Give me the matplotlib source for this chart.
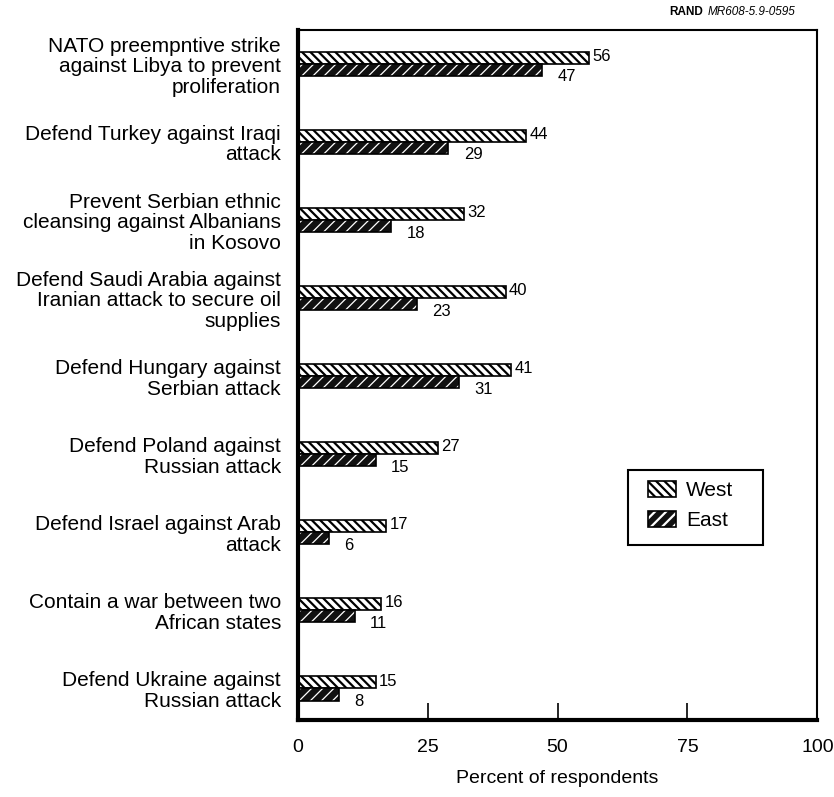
import matplotlib
matplotlib.use("Agg")
import matplotlib.pyplot as plt
from matplotlib.patches import Patch, Rectangle
from matplotlib.legend_handler import HandlerTuple

plt.rcParams['font.family'] = ['Liberation Sans', 'DejaVu Sans']
plt.rcParams['hatch.linewidth'] = 1.6

categories = [
    "NATO preempntive strike\nagainst Libya to prevent\nproliferation",
    "Defend Turkey against Iraqi\nattack",
    "Prevent Serbian ethnic\ncleansing against Albanians\nin Kosovo",
    "Defend Saudi Arabia against\nIranian attack to secure oil\nsupplies",
    "Defend Hungary against\nSerbian attack",
    "Defend Poland against\nRussian attack",
    "Defend Israel against Arab\nattack",
    "Contain a war between two\nAfrican states",
    "Defend Ukraine against\nRussian attack",
]
west = [56, 44, 32, 40, 41, 27, 17, 16, 15]
east = [47, 29, 18, 23, 31, 15, 6, 11, 8]
xticks = [0, 25, 50, 75, 100]

fig = plt.figure(figsize=(8.34, 7.97), dpi=100)
ax = fig.add_axes([0.357, 0.097, 0.623, 0.865])

y = list(range(len(categories)))
h = 0.155
yw = [v - h / 2 for v in y]
ye = [v + h / 2 for v in y]

ax.barh(yw, west, height=h, facecolor='white', edgecolor='black', hatch='\\\\\\\\', linewidth=1.2)
with plt.rc_context({'hatch.linewidth': 0.9}):
    ax.barh(ye, east, height=h, facecolor='#111111', edgecolor='white', hatch='///', linewidth=0)
    he1 = Patch(facecolor='#111111', edgecolor='white', hatch='///', linewidth=0)
ax.barh(ye, east, height=h, fill=False, edgecolor='black', linewidth=1.2)

for yy, v in zip(yw, west):
    ax.annotate(str(v), (v, yy), xytext=(2.5, 1), textcoords='offset points',
                va='center', ha='left', fontsize=12)
for yy, v in zip(ye, east):
    ax.annotate(str(v), (v, yy), xytext=(11, -5), textcoords='offset points',
                va='center', ha='left', fontsize=12)

ax.set_xlim(0, 100)
ax.set_ylim(8.4, -0.43)
ax.set_yticks(y)
ax.set_yticklabels(categories, fontsize=15, linespacing=1.1)
ax.tick_params(axis='y', length=0, pad=12)
ax.set_xticks(xticks)
ax.set_xticklabels([str(t) for t in xticks], fontsize=14)
ax.tick_params(axis='x', direction='in', length=12, width=1.2, pad=14)
ax.set_xlabel("Percent of respondents", fontsize=14, labelpad=10)

ax.spines['left'].set_linewidth(3)
ax.spines['bottom'].set_linewidth(3)
ax.spines['top'].set_linewidth(1.5)
ax.spines['right'].set_linewidth(1.5)

# legend box
ax.add_patch(Rectangle((0.636, 0.362 - 0.109), 0.260, 0.109, transform=ax.transAxes,
                       fill=False, edgecolor='black', linewidth=1.5, zorder=4))
hw = Patch(facecolor='white', edgecolor='black', hatch='\\\\\\\\', linewidth=1.2)
he2 = Patch(fill=False, edgecolor='black', linewidth=1.2)
leg = ax.legend([hw, (he1, he2)], ["West", "East"],
                handler_map={tuple: HandlerTuple(ndivide=1, pad=0)},
                loc='upper left', bbox_to_anchor=(0.675, 0.346),
                fontsize=15, frameon=False,
                borderpad=0, borderaxespad=0, handlelength=1.3, handleheight=0.8,
                handletextpad=0.5, labelspacing=0.5)

t_it = fig.text(795 / 834, 1 - 12 / 797, "MR608-5.9-0595", fontsize=8.5, style='italic',
                ha='right', va='center')
fig.canvas.draw()
bb = t_it.get_window_extent(fig.canvas.get_renderer())
fig.text((bb.x0 - 4) / 834, 1 - 12 / 797, "RAND", fontsize=8.5, fontweight='bold',
         ha='right', va='center')

fig.savefig("out.png", dpi=100)
